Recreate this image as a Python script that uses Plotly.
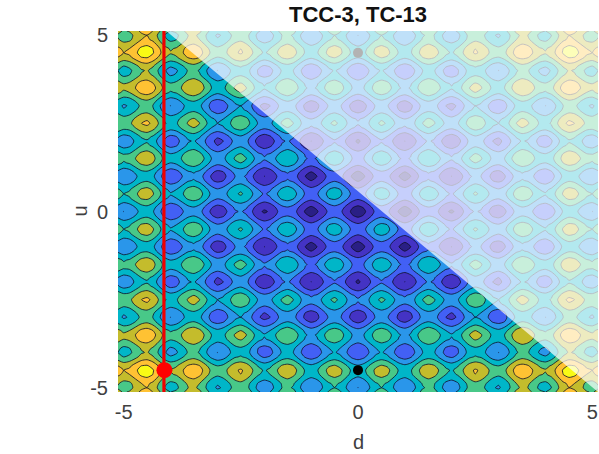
import plotly.graph_objects as go

# Surface values estimated for one quadrant (d >= 0, u >= 0) at the sample positions below;
# the surface in the picture looks mirrored in both axes.
axis_half = [0, 0.125, 0.375, 0.5, 0.625, 0.875, 1, 1.125, 1.375, 1.5, 1.625, 1.875, 2, 2.125, 2.375, 2.5,
             2.625, 2.875, 3, 3.125, 3.375, 3.5, 3.625, 3.875, 4, 4.125, 4.375, 4.5, 4.625, 4.875, 5, 5.12]
quadrant = [
[0,3,17,20,17,4,1,4,19,22,20,6,4,7,23,26,24,11,9,13,28,32,30,18,16,20,36,40,38,27,25,29],
[3,6,20,23,20,7,4,7,22,25,23,9,7,10,26,29,27,14,12,16,31,35,33,21,19,23,39,43,41,30,28,32],
[17,20,34,37,35,21,18,21,36,39,37,24,21,25,40,43,41,28,26,30,46,49,47,35,33,37,53,57,56,44,42,46],
[20,23,37,41,38,24,21,24,39,42,40,27,24,28,43,46,44,31,29,33,49,52,50,38,36,40,56,60,59,47,45,49],
[17,20,35,38,35,21,18,22,36,40,37,24,21,25,40,44,41,29,26,30,46,50,48,35,33,37,54,58,56,44,42,46],
[4,7,21,24,21,7,5,8,23,26,23,10,8,11,26,30,28,15,13,16,32,36,34,22,20,24,40,44,42,30,29,33],
[1,4,18,21,18,5,2,5,20,23,21,7,5,8,24,27,25,12,10,14,29,33,31,19,17,21,37,41,39,28,26,30],
[4,7,21,24,22,8,5,8,23,26,24,11,8,12,27,30,28,15,13,17,33,36,34,22,20,24,40,44,43,31,29,33],
[19,22,36,39,36,23,20,23,38,41,39,25,23,26,42,45,43,30,28,32,47,51,49,37,35,39,55,59,57,46,44,48],
[22,25,39,42,40,26,23,26,41,44,42,29,26,30,45,48,46,33,31,35,51,54,52,40,38,42,58,62,61,49,47,51],
[20,23,37,40,37,23,21,24,39,42,39,26,24,27,42,46,44,31,29,32,48,52,50,38,36,40,56,60,58,46,45,49],
[6,9,24,27,24,10,7,11,25,29,26,13,10,14,29,33,30,18,15,19,35,39,37,24,22,26,43,47,45,33,31,35],
[4,7,21,24,21,8,5,8,23,26,24,10,8,11,27,30,28,15,13,17,32,36,34,22,20,24,40,44,42,31,29,33],
[7,10,25,28,25,11,8,12,26,30,27,14,11,15,30,34,31,19,16,20,36,40,38,25,23,27,44,48,46,34,32,36],
[23,26,40,43,40,26,24,27,42,45,42,29,27,30,45,49,47,34,32,35,51,55,53,41,39,43,59,63,61,49,48,52],
[26,29,43,47,44,30,27,30,45,48,46,33,30,34,49,53,50,37,35,39,55,59,56,44,42,46,63,67,65,53,51,55],
[24,27,41,44,41,28,25,28,43,46,44,30,28,31,47,50,48,35,33,37,52,56,54,42,40,44,60,64,62,51,49,53],
[11,14,28,31,29,15,12,15,30,33,31,18,15,19,34,37,35,22,20,24,40,43,41,29,27,31,47,51,50,38,36,40],
[9,12,26,29,26,13,10,13,28,31,29,15,13,16,32,35,33,20,18,22,37,41,39,27,25,29,45,49,47,36,34,38],
[13,16,30,33,30,16,14,17,32,35,32,19,17,20,35,39,37,24,22,25,41,45,43,31,29,33,49,53,51,39,38,42],
[28,31,46,49,46,32,29,33,47,51,48,35,32,36,51,55,52,40,37,41,57,61,59,46,44,48,65,69,67,55,53,57],
[32,35,49,53,50,36,33,36,51,54,52,39,36,40,55,59,56,43,41,45,61,65,62,50,48,52,69,73,71,59,57,61],
[30,33,47,50,48,34,31,34,49,52,50,37,34,38,53,56,54,41,39,43,59,62,60,48,46,50,66,70,69,57,55,59],
[18,21,35,38,35,22,19,22,37,40,38,24,22,25,41,44,42,29,27,31,46,50,48,36,34,38,54,58,56,45,43,47],
[16,19,33,36,33,20,17,20,35,38,36,22,20,24,39,42,40,27,25,29,44,48,46,34,32,36,52,56,54,43,41,45],
[20,23,37,40,37,24,21,24,39,42,40,26,24,27,43,46,44,31,29,33,48,52,50,38,36,40,56,60,58,47,45,49],
[36,39,53,56,54,40,37,40,55,58,56,43,40,44,59,62,60,47,45,49,65,68,66,54,52,56,72,76,75,63,61,65],
[40,43,57,60,58,44,41,44,59,62,60,47,44,48,63,66,64,51,49,53,69,73,70,58,56,60,76,81,79,67,65,69],
[38,41,56,59,56,42,39,43,57,61,58,45,42,46,61,65,62,50,47,51,67,71,69,56,54,58,75,79,77,65,63,67],
[27,30,44,47,44,30,28,31,46,49,46,33,31,34,49,53,51,38,36,39,55,59,57,45,43,47,63,67,65,53,52,56],
[25,28,42,45,42,29,26,29,44,47,45,31,29,32,48,51,49,36,34,38,53,57,55,43,41,45,61,65,63,52,50,54],
[29,32,46,49,46,33,30,33,48,51,49,35,33,36,52,55,53,40,38,42,57,61,59,47,45,49,65,69,67,56,54,58],
]
band_colors = ["#2a1f85", "#4433c4", "#4260f5", "#2a96ea", "#00b6c8", "#48c888", "#c4bc2c", "#ffc233", "#f9fb15"]
shade_d = [-4.09, 5.12, 5.12]
shade_u = [5.12, 5.12, -5.12]
point_d = [0, 0]
point_u = [-4.5, 4.5]
red_line_d = [-4.14, -4.14]
red_line_u = [-5.12, 5.12]
red_point_d = [-4.13]
red_point_u = [-4.5]
tick_vals = [-5, 0, 5]
tick_text = ["-5", "0", "5"]

axis_full = [-v for v in axis_half[:0:-1]] + axis_half
rows = [r[:0:-1] + r for r in quadrant]
z = rows[:0:-1] + rows

n = len(band_colors)
scale = []
for i, c in enumerate(band_colors):
    scale += [[i / n, c], [(i + 1) / n, c]]

fig = go.Figure()
fig.add_trace(go.Contour(
    x=axis_full, y=axis_full, z=z, zmin=-5, zmax=85, colorscale=scale, showscale=False,
    contours=dict(start=5.1, end=75.1, size=10, coloring="fill"),
    line=dict(color="rgba(15,15,40,0.9)", width=0.9, smoothing=0.7), hoverinfo="skip"))
fig.add_trace(go.Scatter(x=point_d, y=point_u, mode="markers",
                         marker=dict(color="black", size=10), showlegend=False))
fig.add_trace(go.Scatter(x=shade_d, y=shade_u, mode="lines", fill="toself",
                         fillcolor="rgba(255,255,255,0.7)", line=dict(width=0), showlegend=False))
fig.add_trace(go.Scatter(x=red_line_d, y=red_line_u, mode="lines",
                         line=dict(color="#f00000", width=3.2), showlegend=False))
fig.add_trace(go.Scatter(x=red_point_d, y=red_point_u, mode="markers",
                         marker=dict(color="#ff0000", size=16), showlegend=False))

label_font = dict(family="Liberation Sans", size=20, color="#404040")
axis_style = dict(range=[-5.12, 5.12], tickvals=tick_vals, ticktext=tick_text, showgrid=False, zeroline=False,
                  showline=False, automargin=False, tickfont=label_font,
                  ticks="outside", tickcolor="rgba(0,0,0,0)")
fig.update_layout(
    width=599, height=454, autosize=False, showlegend=False,
    paper_bgcolor="white", plot_bgcolor="white",
    margin=dict(l=118, r=1, t=31, b=62),
    title=dict(text="<b>TCC-3, TC-13</b>", x=358 / 599, xanchor="center", y=1 - 14 / 454, yref="container",
               yanchor="middle", font=dict(family="Liberation Sans", size=22, color="#111111")),
    xaxis=dict(axis_style, ticklen=2),
    yaxis=dict(axis_style, ticklen=5),
    annotations=[
        dict(text="d", xref="paper", yref="paper", x=0.5, y=0, yshift=-50, yanchor="middle",
             showarrow=False, font=label_font),
        dict(text="u", xref="paper", yref="paper", x=0, y=0.5, xshift=-39, xanchor="center",
             textangle=-90, showarrow=False, font=label_font),
    ],
)
# Remove the browser's default page margin so figure pixels line up with the window.
fig.write_html("out.html", config={"displayModeBar": False},
               post_script="document.body.style.margin='0';document.body.style.overflow='hidden';")
